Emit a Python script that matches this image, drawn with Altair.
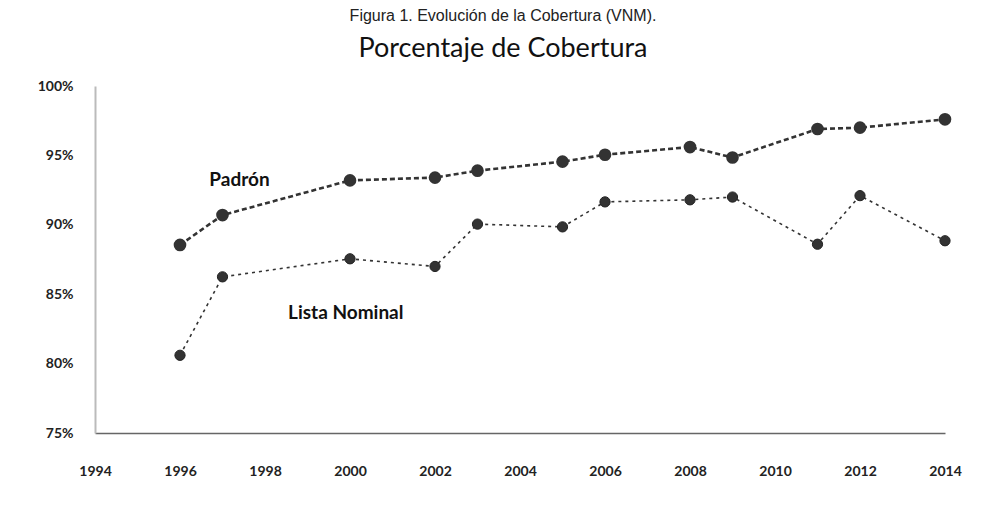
import altair as alt
import pandas as pd

years = [1996, 1997, 2000, 2002, 2003, 2005, 2006, 2008, 2009, 2011, 2012, 2014]
padron = [88.55, 90.7, 93.2, 93.4, 93.9, 94.55, 95.05, 95.6, 94.85, 96.9, 97.0, 97.6]
lista = [80.6, 86.25, 87.55, 87.0, 90.05, 89.85, 91.65, 91.8, 92.0, 88.6, 92.1, 88.85]

x_ticks = list(range(1994, 2015, 2))
y_ticks = [75, 80, 85, 90, 95, 100]

label_text = ["Padrón", "Lista Nominal"]
label_x = [1997.4, 1999.9]
label_y = [93.25, 83.65]

title_text = ["Porcentaje de Cobertura"]
figure_text = ["Figura 1.  Evolución de la Cobertura (VNM)."]

FONT = "Lato"
INK = "#333333"

df = pd.DataFrame({
    "year": years * 2,
    "value": padron + lista,
    "serie": ["Padrón"] * len(years) + ["Lista Nominal"] * len(years),
})
dfp = df[df.serie == "Padrón"]
dfl = df[df.serie == "Lista Nominal"]
labels = pd.DataFrame({"t": label_text, "x": label_x, "y": label_y})

xs = alt.Scale(domain=[1994, 2014], nice=False, zero=False)
ys = alt.Scale(domain=[75, 100], nice=False, zero=False)

X = alt.X("year:Q", scale=xs, axis=alt.Axis(
    values=x_ticks, format="d", title=None, grid=False, ticks=False,
    labelPadding=31, labelFont=FONT, labelFontSize=14, labelFontWeight="bold",
    labelColor="#222", domainColor="#666", domainWidth=1.5, labelFlush=False))
Y = alt.Y("value:Q", scale=ys, axis=alt.Axis(
    values=y_ticks, labelExpr="datum.value + '%'", title=None, grid=False, ticks=False,
    labelPadding=22, labelFont=FONT, labelFontSize=14, labelFontWeight="bold",
    labelColor="#222", domainColor="#bbbbbb", domainWidth=2))

pad_line = alt.Chart(dfp).mark_line(color=INK, strokeWidth=2.6, strokeDash=[5, 3]).encode(x=X, y=Y)
pad_pts = alt.Chart(dfp).mark_circle(color=INK, size=160, opacity=1).encode(x=X, y=Y)
lis_line = alt.Chart(dfl).mark_line(color=INK, strokeWidth=1.6, strokeDash=[3, 4]).encode(x=X, y=Y)
lis_pts = alt.Chart(dfl).mark_circle(color=INK, size=105, opacity=1, stroke="#222", strokeWidth=1).encode(x=X, y=Y)

lbl = alt.Chart(labels).mark_text(font=FONT, fontSize=19, color="#111", fontWeight="bold").encode(
    x=alt.X("x:Q", scale=xs), y=alt.Y("y:Q", scale=ys), text="t:N")

title = alt.Chart(pd.DataFrame({"t": title_text})).mark_text(
    font=FONT, fontSize=27, color="#111", baseline="middle").encode(
    x=alt.value(408), y=alt.value(-37), text="t:N")

fig = alt.Chart(pd.DataFrame({"t": figure_text})).mark_text(
    font="Liberation Sans", fontSize=16, color="#222", baseline="alphabetic").encode(
    x=alt.value(408), y=alt.value(-65), text="t:N")

chart = alt.layer(pad_line, lis_line, pad_pts, lis_pts, lbl, title, fig).properties(
    width=850, height=347,
    padding={"left": 87, "top": 78, "right": 45, "bottom": 53},
    autosize=alt.AutoSizeParams(type="none"),
).configure(background="white", view=alt.ViewConfig(strokeWidth=0, stroke="transparent"))

chart.save("out.html", embed_options={"renderer": "svg", "actions": False})
